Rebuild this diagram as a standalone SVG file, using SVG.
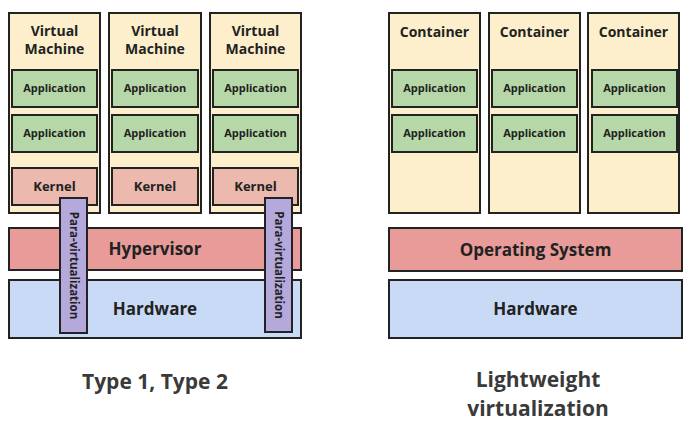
<svg xmlns="http://www.w3.org/2000/svg" width="690" height="426" viewBox="0 0 690 426">
<style>
text{font-family:"Open Sans","DejaVu Sans",sans-serif;font-weight:bold;text-anchor:middle;fill:#222}
.box{stroke:#222;stroke-width:2}
.vm{fill:#fdefcb}
.app{fill:#b6d8a8}
.ker{fill:#ebb9ae}
.hyp{fill:#e89b99}
.hw{fill:#c8daf6}
.pv{fill:#b5a8da}
.t1{font-size:14px}
.ta{font-size:11px}
.tk{font-size:13px}
.tb{font-size:17px}
.tp{font-size:11.5px}
.cap{font-size:21px;fill:#3a3a3a}
</style>
<g id="vm1">
<rect class="box vm" x="9" y="13" width="91" height="200"/>
<text class="t1" x="54.5" y="36">Virtual</text><text class="t1" x="54.5" y="54">Machine</text>
<rect class="box app" x="12" y="70" width="85" height="37"/><text class="ta" x="54.5" y="92">Application</text>
<rect class="box app" x="12" y="115" width="85" height="37"/><text class="ta" x="54.5" y="137">Application</text>
<rect class="box ker" x="12" y="168" width="85" height="37"/><text class="tk" x="54.5" y="191">Kernel</text>
</g>
<g id="vm2">
<rect class="box vm" x="109" y="13" width="92" height="200"/>
<text class="t1" x="155" y="36">Virtual</text><text class="t1" x="155" y="54">Machine</text>
<rect class="box app" x="112" y="70" width="86" height="37"/><text class="ta" x="155" y="92">Application</text>
<rect class="box app" x="112" y="115" width="86" height="37"/><text class="ta" x="155" y="137">Application</text>
<rect class="box ker" x="112" y="168" width="86" height="37"/><text class="tk" x="155" y="191">Kernel</text>
</g>
<g id="vm3">
<rect class="box vm" x="210" y="13" width="91" height="200"/>
<text class="t1" x="255.5" y="36">Virtual</text><text class="t1" x="255.5" y="54">Machine</text>
<rect class="box app" x="213" y="70" width="85" height="37"/><text class="ta" x="255.5" y="92">Application</text>
<rect class="box app" x="213" y="115" width="85" height="37"/><text class="ta" x="255.5" y="137">Application</text>
<rect class="box ker" x="213" y="168" width="85" height="37"/><text class="tk" x="255.5" y="191">Kernel</text>
</g>
<g id="hypervisor">
<rect class="box hyp" x="9" y="228" width="292" height="42"/>
<text class="tb" x="155" y="255">Hypervisor</text>
</g>
<g id="hardware1">
<rect class="box hw" x="9" y="280" width="292" height="58"/>
<text class="tb" x="155" y="315">Hardware</text>
</g>
<g id="para1">
<rect class="box pv" x="60" y="198" width="27" height="135"/>
<text class="tp" transform="translate(69.5 265.5) rotate(90)">Para-virtualization</text>
</g>
<g id="para2">
<rect class="box pv" x="265" y="198" width="27" height="134"/>
<text class="tp" transform="translate(274.5 265) rotate(90)">Para-virtualization</text>
</g>
<g id="c1">
<rect class="box vm" x="389" y="13" width="91" height="200"/>
<text class="t1" x="434.5" y="37">Container</text>
<rect class="box app" x="392" y="70" width="85" height="37"/><text class="ta" x="434.5" y="92">Application</text>
<rect class="box app" x="392" y="115" width="85" height="37"/><text class="ta" x="434.5" y="137">Application</text>
</g>
<g id="c2">
<rect class="box vm" x="489" y="13" width="91" height="200"/>
<text class="t1" x="534.5" y="37">Container</text>
<rect class="box app" x="492" y="70" width="85" height="37"/><text class="ta" x="534.5" y="92">Application</text>
<rect class="box app" x="492" y="115" width="85" height="37"/><text class="ta" x="534.5" y="137">Application</text>
</g>
<g id="c3">
<rect class="box vm" x="588" y="13" width="91" height="200"/>
<text class="t1" x="633.5" y="37">Container</text>
<rect class="box app" x="592" y="70" width="85" height="37"/><text class="ta" x="634.5" y="92">Application</text>
<rect class="box app" x="592" y="115" width="85" height="37"/><text class="ta" x="634.5" y="137">Application</text>
</g>
<g id="os">
<rect class="box hyp" x="389" y="228" width="293" height="43"/>
<text class="tb" x="535.5" y="256">Operating System</text>
</g>
<g id="hardware2">
<rect class="box hw" x="389" y="280" width="293" height="58"/>
<text class="tb" x="535.5" y="315">Hardware</text>
</g>
<g id="connectors"></g>
<text class="cap" x="155" y="389">Type 1, Type 2</text>
<text class="cap" x="538" y="387">Lightweight</text>
<text class="cap" x="538" y="416">virtualization</text>
</svg>
